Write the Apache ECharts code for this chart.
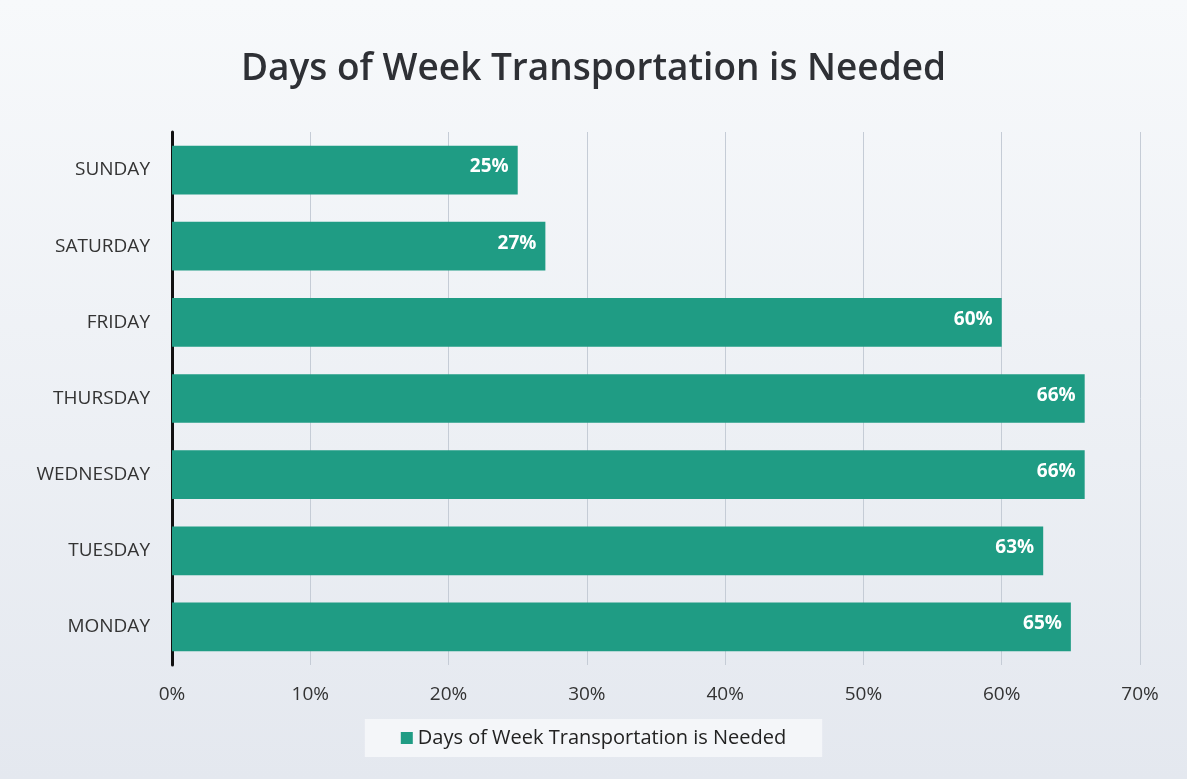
<!DOCTYPE html>
<html>
<head>
<meta charset="utf-8">
<script src="https://cdn.jsdelivr.net/npm/echarts@6/dist/echarts.min.js"></script>
<style>
  html, body { margin: 0; padding: 0; }
  #chart { width: 1187px; height: 779px; }
</style>
</head>
<body>
<div id="chart"></div>
<script>
// 数据 (bottom to top)
var days = ['MONDAY', 'TUESDAY', 'WEDNESDAY', 'THURSDAY', 'FRIDAY', 'SATURDAY', 'SUNDAY'];
var needed = [65, 63, 66, 66, 60, 27, 25];
var seriesName = 'Days of Week Transportation is Needed';
var xTicks = [0, 10, 20, 30, 40, 50, 60, 70];

var myChart = echarts.init(document.getElementById('chart'));

var option = {
    backgroundColor: {
        type: 'linear', x: 0, y: 0, x2: 0, y2: 1,
        colorStops: [
            { offset: 0, color: '#f7f9fb' },
            { offset: 1, color: '#e4e8ef' }
        ]
    },
    color: ['#1f9c84'],
    textStyle: { fontFamily: 'Open Sans' },
    title: {
        text: seriesName,
        left: 'center',
        top: 46,
        textStyle: {
            fontFamily: 'Open Sans',
            fontSize: 37,
            fontWeight: 600,
            color: '#2e3035'
        }
    },
    legend: {
        data: [seriesName],
        bottom: 22,
        left: 'center',
        icon: 'rect',
        itemWidth: 12,
        itemHeight: 12,
        padding: [9, 36, 9, 36],
        backgroundColor: '#f4f6f9',
        textStyle: { fontSize: 20, color: '#222' }
    },
    grid: {
        left: 172,
        right: 47,
        top: 132,
        bottom: 114,
        containLabel: false
    },
    xAxis: {
        type: 'value',
        min: 0,
        max: 70,
        interval: 10,
        axisLabel: {
            formatter: function (v) { return xTicks.indexOf(v) >= 0 ? v + '%' : ''; },
            fontSize: 19,
            color: '#333',
            margin: 20
        },
        axisLine: { show: false },
        axisTick: { show: false },
        splitLine: { lineStyle: { color: '#c5ccd6', width: 1 } }
    },
    yAxis: {
        type: 'category',
        data: days,
        axisLine: { lineStyle: { color: '#111', width: 3 } },
        axisTick: { show: false },
        axisLabel: { fontSize: 19, color: '#333', margin: 22 }
    },
    series: [{
        name: seriesName,
        type: 'bar',
        data: needed,
        barCategoryGap: '36%',
        label: {
            show: true,
            position: 'insideRight',
            formatter: '{c}%',
            color: '#fff',
            fontWeight: 'bold',
            fontSize: 19,
            offset: [-4, -3]
        }
    }]
};

myChart.setOption(option);
</script>
</body>
</html>
